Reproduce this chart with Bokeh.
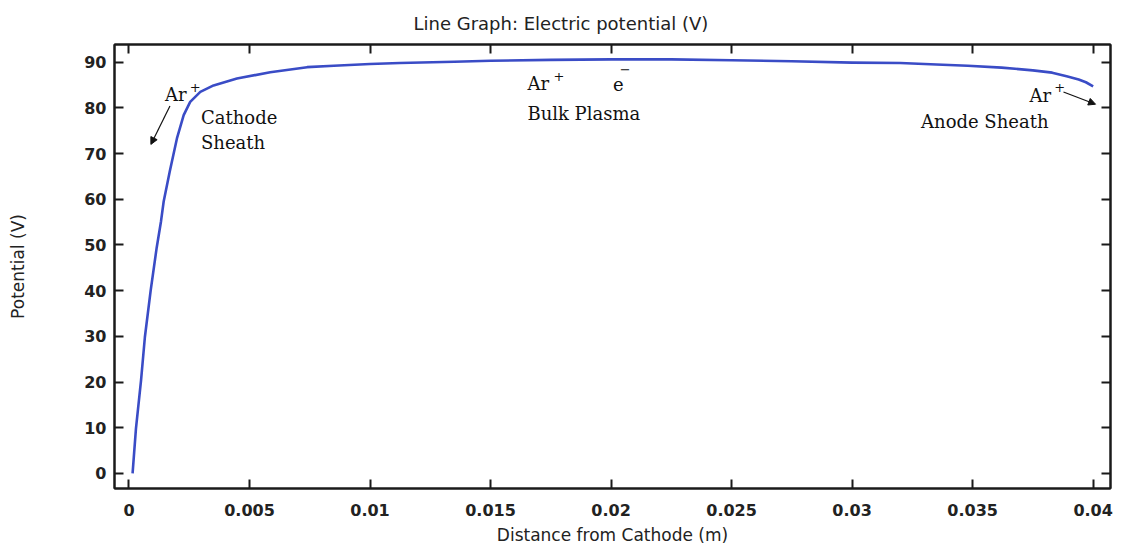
from bokeh.plotting import figure
from bokeh.models import (LinearAxis, FixedTicker, CustomJSTickFormatter, Label,
                          Arrow, NormalHead, Range1d, ColumnDataSource)
from bokeh.embed import file_html
from bokeh.resources import INLINE

# ---- data ----
distance_m = [0.00015, 0.00029, 0.0005, 0.00066, 0.0009, 0.00115, 0.00133, 0.00144,
              0.00169, 0.00199, 0.00227, 0.00254, 0.00296, 0.00351, 0.00448, 0.00586,
              0.00739, 0.0085, 0.01, 0.01124, 0.0135, 0.015, 0.0175, 0.02, 0.0225,
              0.025, 0.0275, 0.03, 0.032, 0.0335, 0.0348, 0.0362, 0.0375, 0.0383,
              0.0389, 0.0394, 0.0397, 0.04]
potential_v = [0.0, 9.8, 20.3, 29.8, 40.0, 49.4, 55.2, 59.5,
               66.0, 73.3, 78.4, 81.3, 83.5, 84.9, 86.4, 87.8,
               88.9, 89.2, 89.6, 89.8, 90.1, 90.3, 90.5, 90.6, 90.6,
               90.4, 90.2, 89.9, 89.8, 89.5, 89.2, 88.8, 88.2, 87.7,
               86.9, 86.2, 85.6, 84.7]

x_ticks = [0, 0.005, 0.01, 0.015, 0.02, 0.025, 0.03, 0.035, 0.04]
y_ticks = [0, 10, 20, 30, 40, 50, 60, 70, 80, 90]

title_text = "Line Graph: Electric potential (V)"
x_label = "Distance from Cathode (m)"
y_label = "Potential (V)"

# annotations (data coordinates)
ann_text = ["Ar", "Cathode", "Sheath", "Ar", "e", "Bulk Plasma", "Ar", "Anode Sheath"]
ann_x = [0.00150, 0.00299, 0.00299, 0.01653, 0.02008, 0.01653, 0.03736, 0.03286]
ann_y = [82.9, 77.8, 72.4, 85.31, 85.31, 78.76, 82.75, 76.92]

sup_text = ["+", "+", "\u2212", "+"]
sup_x = [0.00252, 0.01761, 0.02036, 0.03839]
sup_y = [84.6, 86.9, 88.6, 84.5]

arrow_x0 = [0.00170, 0.03877]
arrow_y0 = [80.4, 83.47]
arrow_x1 = [0.00091, 0.04010]
arrow_y1 = [72.0, 80.79]

# ---- figure ----
p = figure(width=1121, height=547, output_backend="svg", toolbar_location=None,
           x_range=Range1d(-0.0006, 0.04072), y_range=Range1d(-3.3, 93.86),
           min_border_left=114, min_border_right=11, min_border_top=44,
           min_border_bottom=58)
p.title.text = title_text
p.title.align = "left"
p.title.offset = 299
p.title.text_font = "DejaVu Sans"
p.title.text_font_size = "18px"
p.title.text_font_style = "normal"
p.title.text_color = "#222222"
p.title.standoff = 21

p.xgrid.visible = False
p.ygrid.visible = False
p.outline_line_color = "#1a1a1a"
p.outline_line_width = 2
p.background_fill_color = "white"
p.border_fill_color = "white"

fmt = CustomJSTickFormatter(code="""
    var s = tick.toFixed(3);
    s = s.replace(/0+$/, '').replace(/\\.$/, '');
    return s;
""")
blank = CustomJSTickFormatter(code="return '';")

for ax in p.xaxis:
    ax.ticker = FixedTicker(ticks=x_ticks)
    ax.formatter = fmt
    ax.axis_label = x_label
    ax.axis_label_standoff = 6
    ax.major_label_standoff = 15
for ax in p.yaxis:
    ax.ticker = FixedTicker(ticks=y_ticks)
    ax.axis_label = y_label
    ax.axis_label_standoff = 53
    ax.major_label_standoff = 8

for ax in p.xaxis + p.yaxis:
    ax.major_tick_in = 9
    ax.major_tick_out = 0
    ax.minor_tick_line_color = None
    ax.major_tick_line_width = 2
    ax.major_tick_line_color = "#1a1a1a"
    ax.axis_line_width = 2
    ax.axis_line_color = "#1a1a1a"
    ax.major_label_text_font = "DejaVu Sans"
    ax.major_label_text_font_size = "16px"
    ax.major_label_text_font_style = "bold"
    ax.major_label_text_color = "#222222"
    ax.axis_label_text_font = "DejaVu Sans"
    ax.axis_label_text_font_size = "17px"
    ax.axis_label_text_font_style = "normal"
    ax.axis_label_text_color = "#222222"

# mirrored inward ticks on top and right
top = LinearAxis(ticker=FixedTicker(ticks=x_ticks), formatter=blank,
                 major_tick_in=9, major_tick_out=0, minor_tick_line_color=None,
                 major_label_standoff=0, axis_line_width=2, axis_line_color="#1a1a1a",
                 major_tick_line_width=2, major_tick_line_color="#1a1a1a")
right = LinearAxis(ticker=FixedTicker(ticks=y_ticks), formatter=blank,
                   major_tick_in=9, major_tick_out=0, minor_tick_line_color=None,
                   major_label_standoff=0, axis_line_width=2, axis_line_color="#1a1a1a",
                   major_tick_line_width=2, major_tick_line_color="#1a1a1a")
p.add_layout(top, "above")
p.add_layout(right, "right")

src = ColumnDataSource(dict(x=distance_m, y=potential_v))
p.line("x", "y", source=src, line_color="#3a4cc6", line_width=2.6,
       line_join="round")

for t, x, y in zip(ann_text, ann_x, ann_y):
    p.add_layout(Label(x=x, y=y, text=t, text_font="DejaVu Serif",
                       text_font_size="18px", text_color="#111111",
                       text_baseline="alphabetic", text_align="left"))
for t, x, y in zip(sup_text, sup_x, sup_y):
    p.add_layout(Label(x=x, y=y, text=t, text_font="DejaVu Serif",
                       text_font_size="13px", text_color="#111111",
                       text_baseline="alphabetic", text_align="left"))
for x0, y0, x1, y1 in zip(arrow_x0, arrow_y0, arrow_x1, arrow_y1):
    p.add_layout(Arrow(x_start=x0, y_start=y0, x_end=x1, y_end=y1,
                       line_color="#111111", line_width=1.2,
                       end=NormalHead(size=7, fill_color="#111111",
                                      line_color="#111111")))

open("out.html", "w").write(file_html(p, INLINE))
